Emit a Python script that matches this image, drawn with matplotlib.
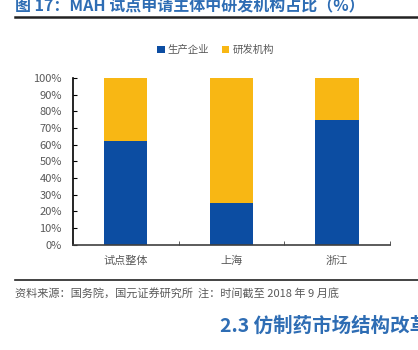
import matplotlib
matplotlib.use("Agg")
import matplotlib.pyplot as plt
from matplotlib.lines import Line2D
from matplotlib.ticker import PercentFormatter
import numpy as np

plt.rcParams['font.family'] = ['Noto Sans CJK SC', 'DejaVu Sans']

# 研发机构占比 data (percent)
categories = ["试点整体", "上海", "浙江"]
producer = [62.5, 25.0, 75.0]          # 生产企业
rnd = [37.5, 75.0, 25.0]               # 研发机构
series_names = ["生产企业", "研发机构"]
yticks = list(range(0, 101, 10))

BLUE = "#0C4DA2"
YELLOW = "#F8B714"
GREY = "#595959"
TITLE_BLUE = "#2E6DB4"

fig = plt.figure(figsize=(4.18, 3.5), dpi=100)
ax = fig.add_axes([0.1746, 0.3009, 0.7584, 0.4762])

x = np.arange(len(categories))
ax.bar(x, producer, width=0.41, color=BLUE, label=series_names[0])
ax.bar(x, rnd, width=0.41, bottom=producer, color=YELLOW, label=series_names[1])

ax.set_xlim(-0.5, len(categories) - 0.5)
ax.set_ylim(0, 100)
ax.set_yticks(yticks)
ax.yaxis.set_major_formatter(PercentFormatter(decimals=0))
ax.tick_params(axis="y", direction="in", length=3, labelsize=8,
               labelcolor=GREY, color="black", pad=8)

# category labels centred under bars, ticks on category boundaries
ax.set_xticks(x)
ax.set_xticklabels(categories, fontsize=8, color=GREY)
ax.tick_params(axis="x", length=0, pad=8)
ax.set_xticks(np.arange(len(categories)) + 0.5, minor=True)
ax.tick_params(axis="x", which="minor", direction="in", length=3, color="#404040")

for side in ("top", "right"):
    ax.spines[side].set_visible(False)
ax.spines["left"].set_color("black")
ax.spines["left"].set_linewidth(1.2)
ax.spines["bottom"].set_color("#404040")
ax.spines["bottom"].set_linewidth(1.2)

ax.legend(loc="lower center", bbox_to_anchor=(0.45, 1.08), ncol=2, frameon=False,
          fontsize=7.5, handlelength=0.7, handleheight=0.7, handletextpad=0.3,
          columnspacing=1.2, labelcolor=GREY)

# page title (runs off the top edge), rules, source note and next heading
fig.text(0.036, 1 - 10 / 350, "图 17：MAH 试点申请主体中研发机构占比（%）",
         fontsize=11.5, fontweight="bold", color=TITLE_BLUE, va="baseline")
fig.add_artist(Line2D([15 / 418, 1], [1 - 16.5 / 350] * 2, color="#222222", lw=1.8))
fig.add_artist(Line2D([15 / 418, 1], [1 - 280 / 350] * 2, color="#222222", lw=1.2))
fig.text(15 / 418, 1 - 294 / 350, "资料来源：国务院，国元证券研究所  注：时间截至 2018 年 9 月底",
         fontsize=8, color=GREY, va="center")
fig.text(220 / 418, 1 - 326 / 350, "2.3 仿制药市场结构改革",
         fontsize=14, fontweight="bold", color=TITLE_BLUE, va="center")

fig.savefig("out.png", dpi=100)
